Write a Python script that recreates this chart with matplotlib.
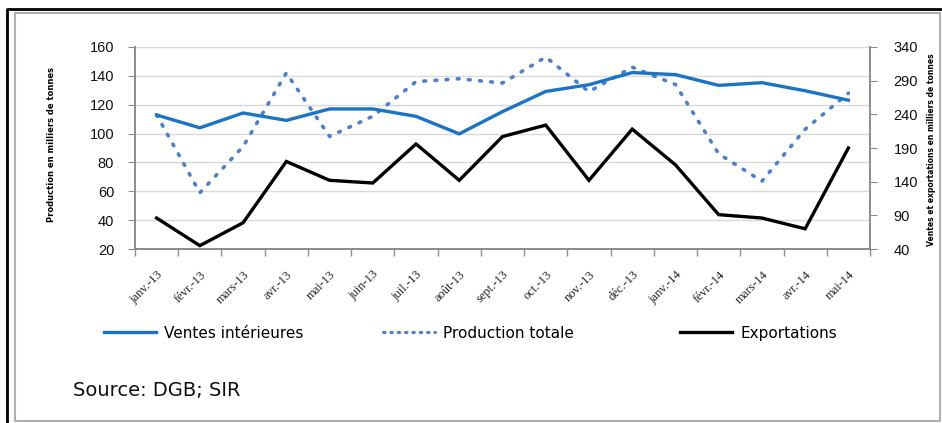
import matplotlib
matplotlib.use("Agg")
import matplotlib.pyplot as plt
from matplotlib.lines import Line2D

# Monthly series, thousands of tonnes
months = ["janv.-13", "févr.-13", "mars-13", "avr.-13", "mai-13", "juin-13",
          "juil.-13", "août-13", "sept.-13", "oct.-13", "nov.-13", "déc.-13",
          "janv.-14", "févr.-14", "mars-14", "avr.-14", "mai-14"]

# Left axis
production_totale = [113, 59, 91, 142, 98, 112, 136, 138, 135, 153, 129, 146,
                     134, 86, 67, 103, 128]

# Right axis
ventes_interieures = [239, 220, 242, 231, 248, 248, 237, 211, 244, 274, 284, 302,
                      299, 283, 287, 275, 261]
exportations = [86, 45, 79, 170, 142, 138, 196, 142, 207, 224, 142, 218,
                165, 91, 86, 70, 190]

left_ticks = [20, 40, 60, 80, 100, 120, 140, 160]
right_ticks = [40, 90, 140, 190, 240, 290, 340]

BLUE = "#1a73c4"
DOT_BLUE = "#4f7fc8"
GRID = "#d9d9d9"
SPINE = "#8c8c8c"
DOTTED = (0, (0.5, 2.6))

W, H = 942, 423
fig = plt.figure(figsize=(W / 100, H / 100), dpi=100)
fig.patch.set_facecolor("white")

ax = fig.add_axes([135 / W, 1 - 249 / H, (870 - 135) / W, (249 - 47) / H])
ax2 = ax.twinx()

x = list(range(len(months)))

ax.plot(x, production_totale, color=DOT_BLUE, lw=2.6, linestyle=DOTTED,
        dash_capstyle="round", zorder=3)
ax2.plot(x, ventes_interieures, color=BLUE, lw=2.4, solid_joinstyle="miter", zorder=3)
ax2.plot(x, exportations, color="black", lw=2.4, solid_joinstyle="miter", zorder=3)

ax.set_xlim(-0.5, len(months) - 0.5)
ax.set_ylim(left_ticks[0], left_ticks[-1])
ax2.set_ylim(right_ticks[0], right_ticks[-1])

ax.set_yticks(left_ticks)
ax2.set_yticks(right_ticks)
ax.yaxis.grid(True, color=GRID, lw=1.0)
ax.set_axisbelow(True)

ax.set_xticks(x)
ax.set_xticklabels(months, rotation=45, ha="right", va="top",
                   family="Liberation Serif", fontsize=9, color="#222222",
                   rotation_mode="anchor")
ax.set_xticks([i - 0.5 for i in range(len(months) + 1)], minor=True)
ax.tick_params(axis="x", which="major", length=0, pad=14)
ax.tick_params(axis="x", which="minor", length=5, color=SPINE, width=1)

for a in (ax, ax2):
    a.spines["top"].set_visible(False)
    for side in ("left", "right", "bottom"):
        a.spines[side].set_color(SPINE)
        a.spines[side].set_linewidth(1.2)

ax.tick_params(axis="y", length=5, color=SPINE, pad=10, labelsize=10.5,
               labelcolor="#111111")
ax2.tick_params(axis="y", length=5, color=SPINE, pad=12, labelsize=10.5,
                labelcolor="#111111")
for lab in ax.get_yticklabels() + ax2.get_yticklabels():
    lab.set_family("Liberation Sans")

fig.text(52 / W, 1 - 145 / H, "Production en milliers de tonnes", rotation=90,
         ha="center", va="center", fontsize=6, fontweight="bold",
         family="DejaVu Sans Condensed")
fig.text(931 / W, 1 - 150 / H, "Ventes et exportations en milliers de tonnes",
         rotation=90, ha="center", va="center", fontsize=5.5, fontweight="bold",
         family="DejaVu Sans Condensed")

# One legend entry per series, each anchored at its own horizontal position
entries = [
    (Line2D([], [], color=BLUE, lw=2.4), "Ventes intérieures", 104),
    (Line2D([], [], color=DOT_BLUE, lw=2.2, linestyle=(0, (0.5, 1.9)),
            dash_capstyle="round"), "Production totale", 383),
    (Line2D([], [], color="black", lw=2.4), "Exportations", 680),
]
for handle, label, x0 in entries:
    fig.legend([handle], [label], loc="center left",
               bbox_to_anchor=(x0 / W, 1 - 333 / H), frameon=False,
               borderpad=0, borderaxespad=0, handlelength=3.4,
               handletextpad=0.55, prop={"family": "DejaVu Sans", "size": 11})

fig.text(73 / W, 1 - 390 / H, "Source: DGB; SIR", ha="left", va="center",
         fontsize=14, family="DejaVu Sans", color="#111111")

# Outer frame
fig.add_artist(Line2D([15 / W, 940 / W, 940 / W, 15 / W, 15 / W],
                      [1 - 13 / H, 1 - 13 / H, 1 - 421 / H, 1 - 421 / H, 1 - 13 / H],
                      transform=fig.transFigure, color="#b0b0b0", lw=1.5))
fig.add_artist(Line2D([7 / W, 7 / W, 942 / W], [0, 1 - 9.5 / H, 1 - 9.5 / H],
                      transform=fig.transFigure, color="black", lw=2.0))

fig.savefig("out.png", dpi=100, facecolor="white")
